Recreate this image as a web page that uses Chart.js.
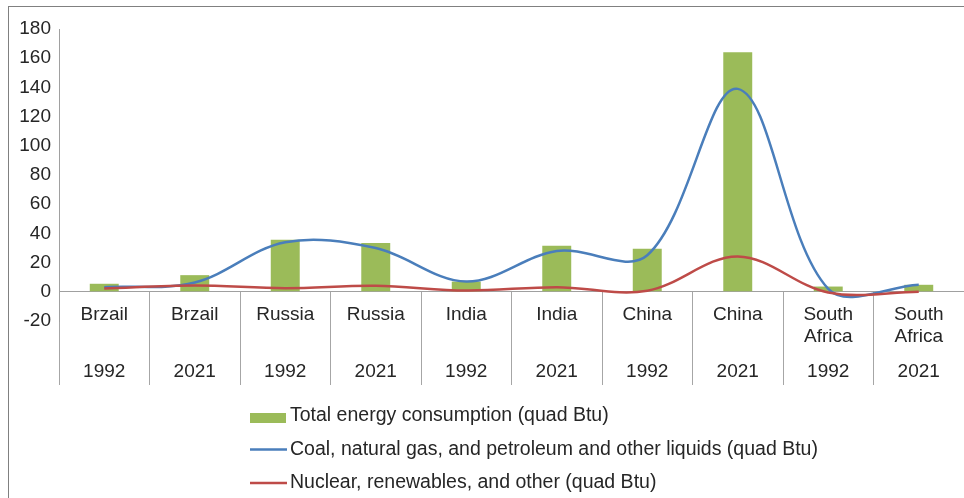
<!DOCTYPE html>
<html>
<head>
<meta charset="utf-8">
<script src="https://cdn.jsdelivr.net/npm/chart.js@4"></script>
<style>
html, body { margin: 0; padding: 0; background: #fff; overflow: hidden; }
#wrap { position: relative; width: 964px; height: 498px; overflow: hidden; }
#frame { position: absolute; left: 8px; top: 6px; width: 1000px; height: 600px; border: 1px solid #808080; }
canvas { position: absolute; left: 0; top: 0; }
</style>
</head>
<body>
<div id="wrap"><div id="frame"></div><canvas id="energyChart" width="964" height="498"></canvas></div>
<script>
// category labels, two levels: country (may wrap) and year
const countries = [["Brzail"], ["Brzail"], ["Russia"], ["Russia"], ["India"], ["India"],
    ["China"], ["China"], ["South", "Africa"], ["South", "Africa"]];
const years = ["1992", "2021", "1992", "2021", "1992", "2021", "1992", "2021", "1992", "2021"];

// series values (quad Btu)
const totalEnergy = [5.5, 11.4, 35.6, 33.5, 7, 31.5, 29.5, 164, 3.6, 4.8];
const fossilFuels = [3.2, 6.4, 34, 30, 7, 28, 25, 139, 2, 4.8];
const nuclearRenewables = [2.3, 4.3, 2.5, 4.1, 0.9, 3.2, 0.7, 24.2, -0.5, 0];

const seriesNames = ["Total energy consumption (quad Btu)",
    "Coal, natural gas, and petroleum and other liquids (quad Btu)",
    "Nuclear, renewables, and other (quad Btu)"];

// y axis range
const yMin = -20, yMax = 180, yStep = 20;

const fontFamily = '"Liberation Sans", Arial, sans-serif';
const textColor = "#262626";

// draws the two-level category labels under the zero line, and the legend
const categoryLabels = {
    id: "categoryLabels",
    afterDraw (chart) {
        const { ctx, scales: { x, y } } = chart;
        const base = y.getPixelForValue(0);
        ctx.save();
        ctx.font = "19px " + fontFamily;
        ctx.fillStyle = textColor;
        ctx.textAlign = "center";
        ctx.textBaseline = "middle";
        countries.forEach((lines, i) => {
            const px = x.getPixelForValue(i);
            lines.forEach((t, j) => ctx.fillText(t, px, base + 23 + j * 22));
            ctx.fillText(years[i], px, base + 80); });

        // legend, one entry per row
        ctx.font = "19.5px " + fontFamily;
        ctx.textAlign = "left";
        chart.data.datasets.forEach((ds, i) => {
            const rowY = 416 + i * 33.5;
            if (ds.type === "bar") {
                ctx.fillStyle = ds.backgroundColor;
                ctx.fillRect(250, rowY - 3, 36, 10);
            } else {
                ctx.strokeStyle = ds.borderColor;
                ctx.lineWidth = 2.5;
                ctx.beginPath(); ctx.moveTo(250, rowY); ctx.lineTo(287, rowY); ctx.stroke();
            }
            ctx.fillStyle = textColor;
            ctx.fillText(ds.label, 290, rowY); });
        ctx.restore(); }
};

new Chart("energyChart", {
    data: {
        labels: countries.map((c, i) => c.join(" ") + " " + years[i]),
        datasets: [{
            type: "bar",
            label: seriesNames[0],
            data: totalEnergy,
            backgroundColor: "#9BBB59",
            barPercentage: 0.32,
            categoryPercentage: 1,
            order: 3
        }, {
            type: "line",
            label: seriesNames[1],
            data: fossilFuels,
            borderColor: "#4A7EBB",
            borderWidth: 2.5,
            pointRadius: 0,
            tension: 0.35,
            order: 2
        }, {
            type: "line",
            label: seriesNames[2],
            data: nuclearRenewables,
            borderColor: "#BE4B48",
            borderWidth: 2.5,
            pointRadius: 0,
            tension: 0.35,
            order: 1
        }]
    },
    options: {
        responsive: false,
        animation: false,
        layout: { padding: { left: 0, right: 0, top: 29, bottom: 177 } },
        plugins: { legend: { display: false }, tooltip: { enabled: false } },
        scales: {
            x: {
                position: { y: 0 },
                offset: true,
                ticks: { display: false },
                grid: { offset: true, drawOnChartArea: false, drawTicks: true, tickLength: 93, color: "#A6A6A6" },
                border: { display: true, color: "#A0A0A0" }
            },
            y: {
                min: yMin, max: yMax,
                ticks: { stepSize: yStep, padding: 8, color: textColor, font: { family: fontFamily, size: 19 } },
                grid: { drawOnChartArea: false, drawTicks: false },
                border: { display: true, color: "#A0A0A0" },
                afterFit (scale) { scale.width = 59; }
            }
        }
    },
    plugins: [categoryLabels]
});
</script>
</body>
</html>
